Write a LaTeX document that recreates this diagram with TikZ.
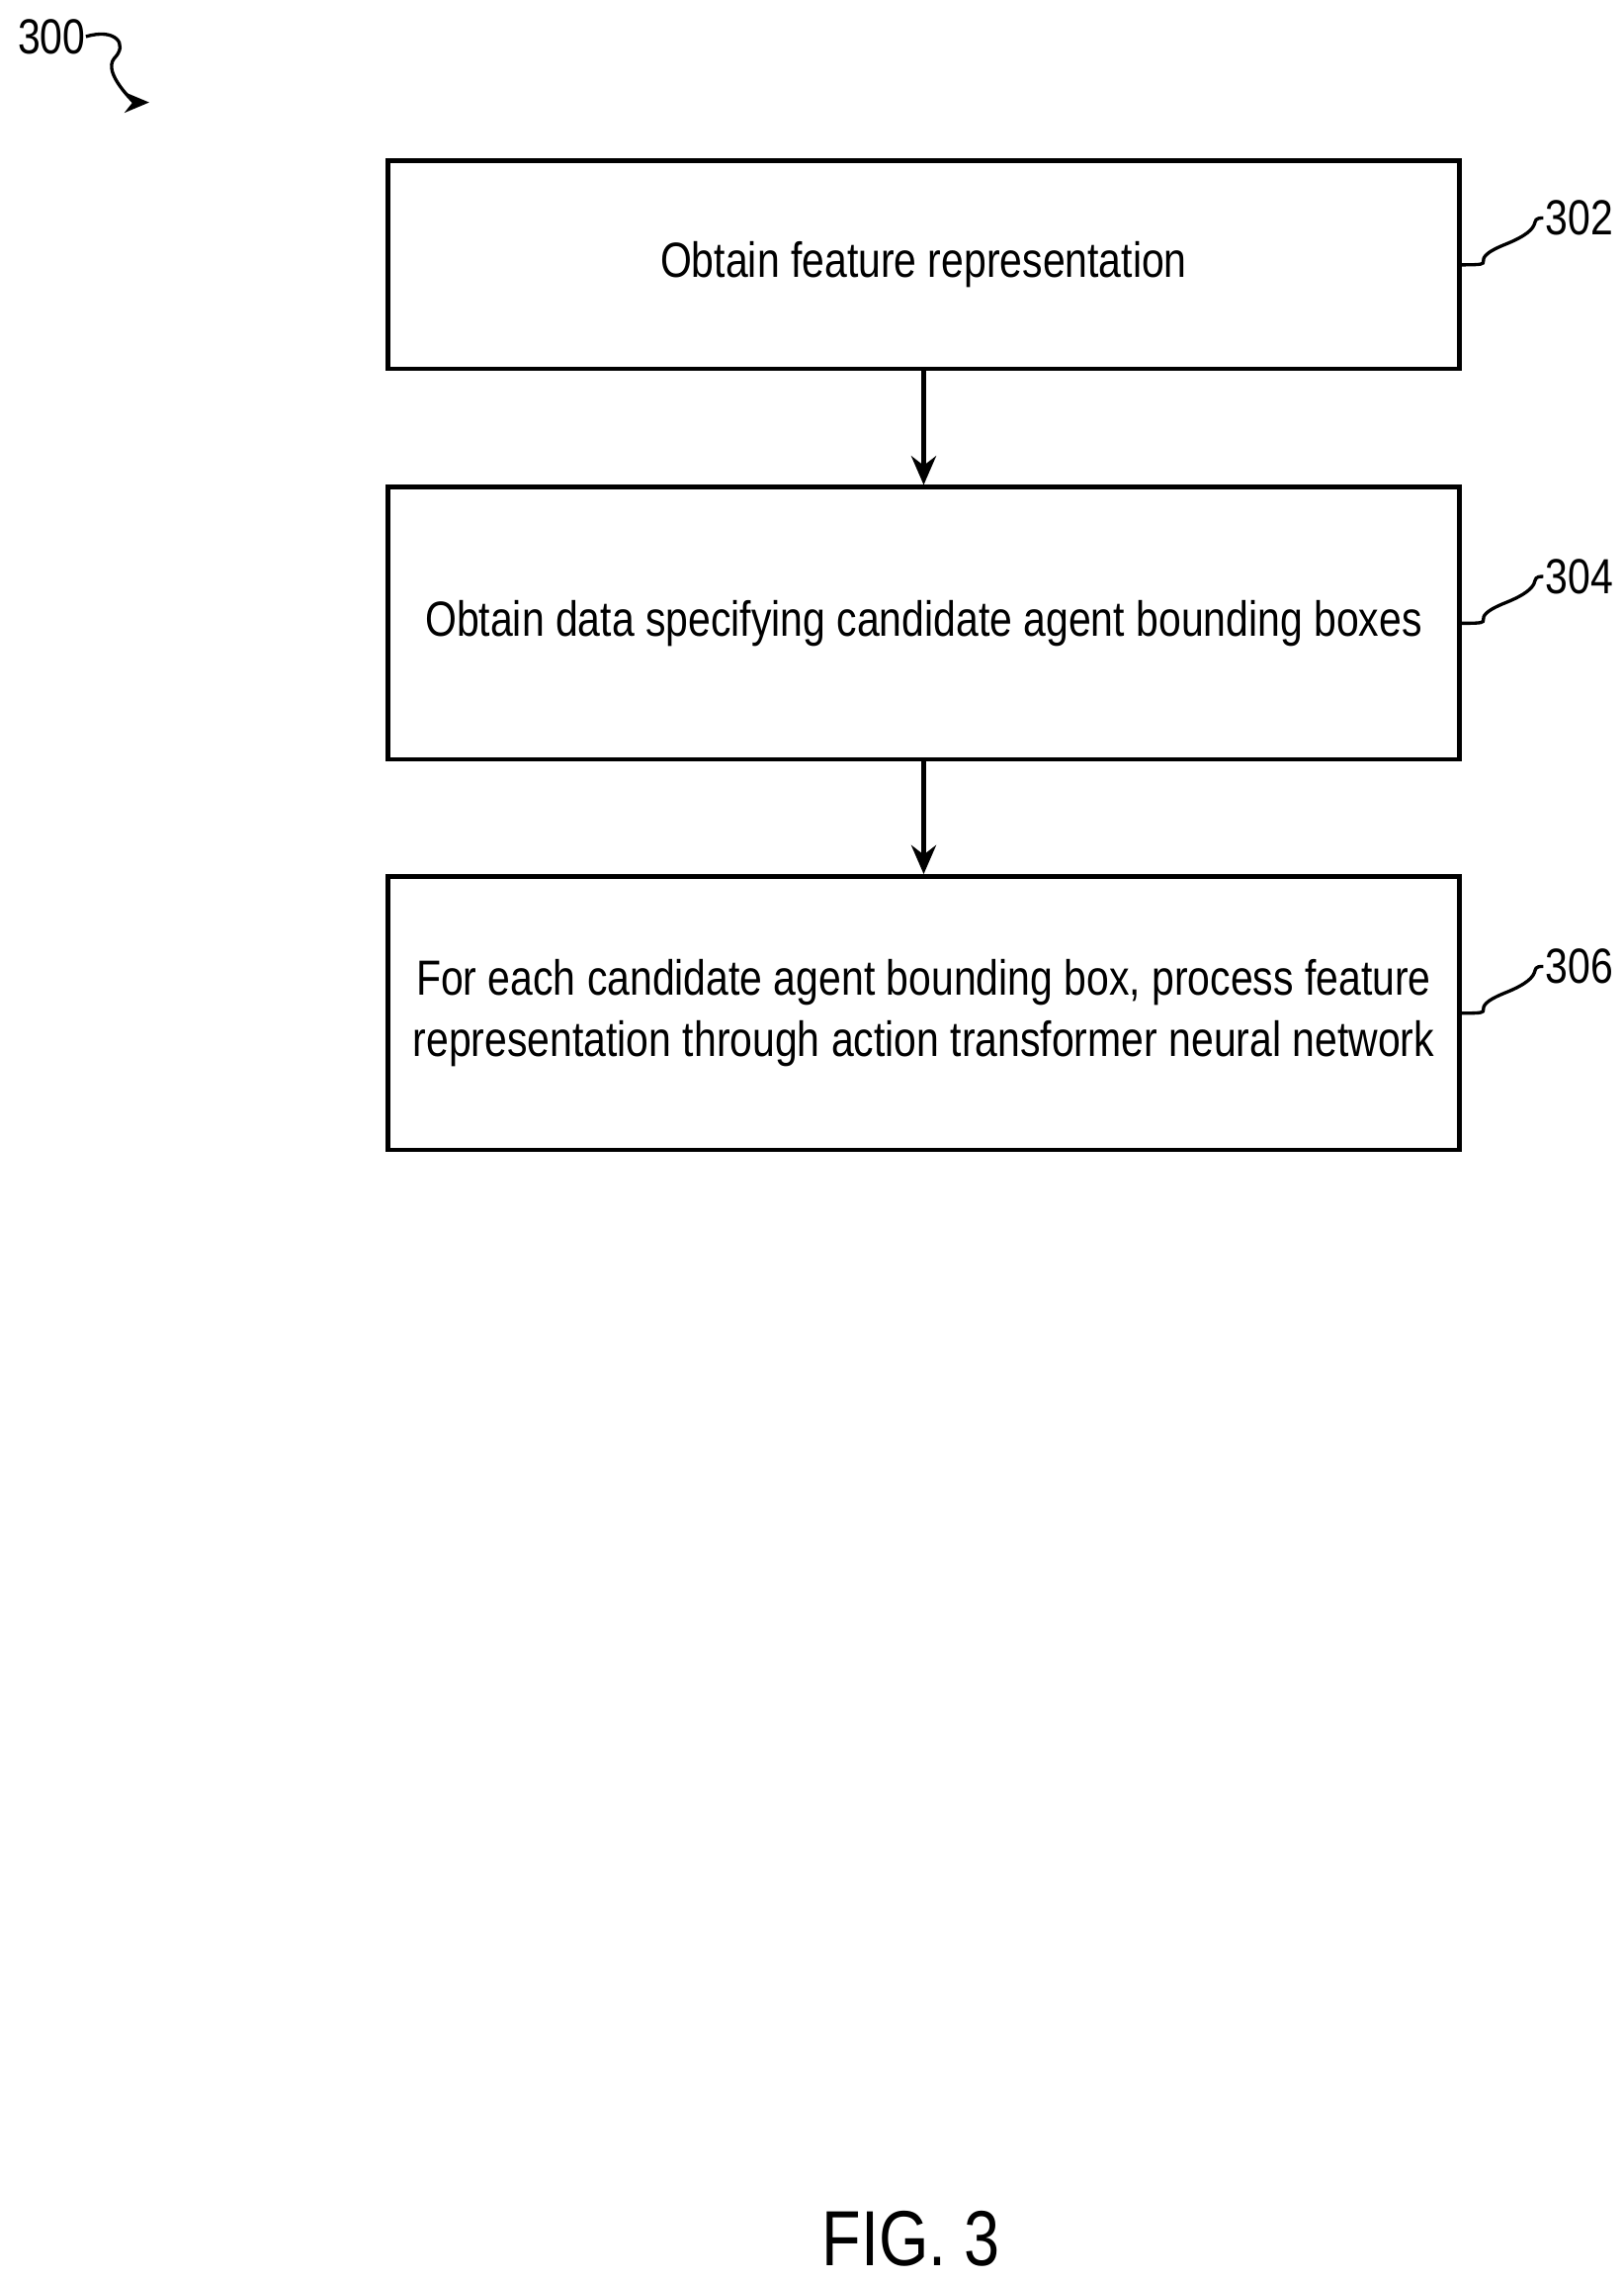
\documentclass[tikz,border=0pt]{standalone}
\usepackage{fontspec}
\setmainfont{Liberation Sans}
\usetikzlibrary{positioning,arrows.meta}
\newcommand{\narrow}[1]{\scalebox{0.82}[1]{#1}}
\tikzset{
  stepbox/.style={draw,line width=2.2pt,minimum width=18.3cm,align=center,font=\fontsize{24}{30}\selectfont},
  flow/.style={-{Stealth[length=14pt,width=12pt]},line width=2.4pt},
  reflab/.style={font=\fontsize{24}{28}\selectfont,anchor=west,inner sep=0pt}
}
\begin{document}
\begin{tikzpicture}[x=0.025cm,y=-0.025cm]
\useasboundingbox (0,0) rectangle (1110,1559);
\node[stepbox,minimum height=3.55cm] (obtain) at (631.5,181) {\narrow{Obtain feature representation}};
\node[stepbox,minimum height=4.65cm] (boxes) at (631.5,426) {\narrow{Obtain data specifying candidate agent bounding boxes}};
\node[stepbox,minimum height=4.675cm] (process) at (631.5,692.5) {\narrow{\begin{tabular}{c}For each candidate agent bounding box, process feature\\representation through action transformer neural network\end{tabular}}};
\draw[flow] (obtain) -- (boxes);
\draw[flow] (boxes) -- (process);
% reference numerals
\foreach \b/\n in {obtain/302,boxes/304,process/306}{
  \draw[line width=1.6pt] (\b.east) .. controls +(30,0) and +(-30,12) .. ++(30,-14) .. controls +(30,-12) and +(-12,0) .. ++(26,-18) coordinate (\b-tag);
  \node[reflab] at ([xshift=1pt]\b-tag) {\narrow{\n}};
}
\node[reflab] (fig) at (12,25) {\narrow{300}};
\draw[line width=1.6pt,-{Stealth[length=12pt,width=10pt]}] (fig.east) .. controls +(20,-6) and +(10,-10) .. (78,40) .. controls +(-8,10) and +(-10,0) .. (102,70);
\node[font=\fontsize{38}{42}\selectfont] (title) at (623,1530) {\narrow{FIG. 3}};
\end{tikzpicture}
\end{document}
